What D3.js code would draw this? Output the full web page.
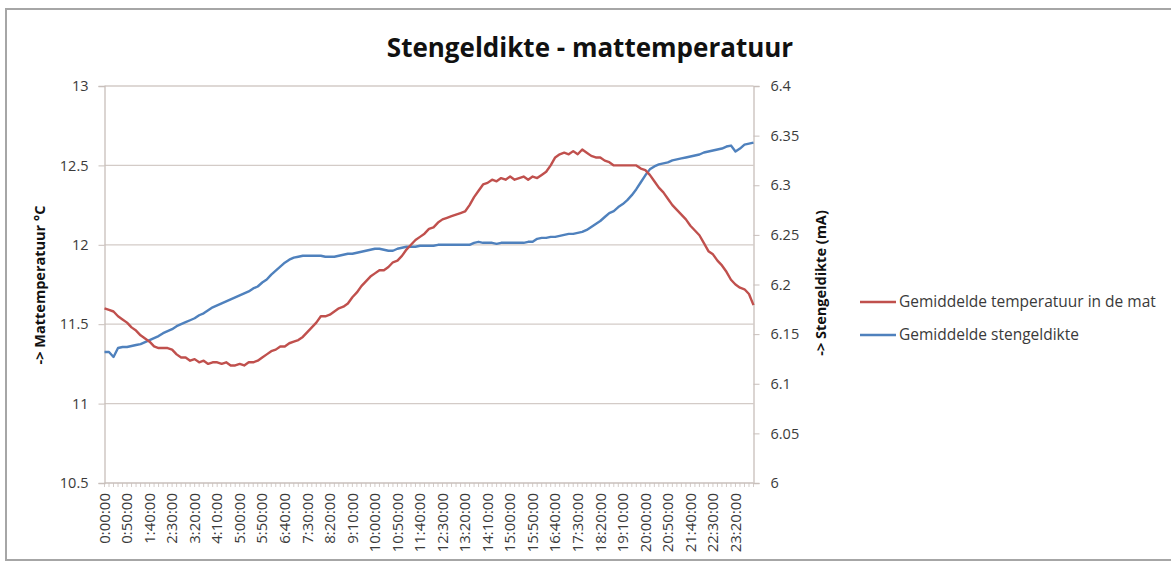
<!DOCTYPE html>
<html>
<head>
<meta charset="utf-8">
<script src="https://cdn.jsdelivr.net/npm/d3@7/dist/d3.min.js"></script>
<style>
  html, body { margin: 0; padding: 0; background: #fff; }
  svg { display: block; font-family: "Open Sans", "DejaVu Sans", sans-serif; }
</style>
</head>
<body>
<svg id="chart" width="1171" height="563"></svg>
<script>
// Gemeten gemiddelden, één waarde per 10 minuten (0:00 t/m 24:00)
const sampleStepMinutes = 10;

const temperatuur = [
  11.60, 11.59, 11.58, 11.55, 11.53, 11.51, 11.48, 11.46, 11.43, 11.41,
  11.39, 11.36, 11.35, 11.35, 11.35, 11.34, 11.31, 11.29, 11.29, 11.27,
  11.28, 11.26, 11.27, 11.25, 11.26, 11.26, 11.25, 11.26, 11.24, 11.24,
  11.25, 11.24, 11.26, 11.26, 11.27, 11.29, 11.31, 11.33, 11.34, 11.36,
  11.36, 11.38, 11.39, 11.40, 11.42, 11.45, 11.48, 11.51, 11.55, 11.55,
  11.56, 11.58, 11.60, 11.61, 11.63, 11.67, 11.70, 11.74, 11.77, 11.80,
  11.82, 11.84, 11.84, 11.86, 11.89, 11.90, 11.93, 11.97, 12.00, 12.03,
  12.05, 12.07, 12.10, 12.11, 12.14, 12.16, 12.17, 12.18, 12.19, 12.20,
  12.21, 12.25, 12.30, 12.34, 12.38, 12.39, 12.41, 12.40, 12.42, 12.41,
  12.43, 12.41, 12.42, 12.43, 12.41, 12.43, 12.42, 12.44, 12.46, 12.50,
  12.55, 12.57, 12.58, 12.57, 12.59, 12.57, 12.60, 12.58, 12.56, 12.55,
  12.55, 12.53, 12.52, 12.50, 12.50, 12.50, 12.50, 12.50, 12.50, 12.48,
  12.47, 12.44, 12.40, 12.36, 12.33, 12.29, 12.25, 12.22, 12.19, 12.16,
  12.12, 12.09, 12.06, 12.01, 11.96, 11.94, 11.90, 11.87, 11.83, 11.78,
  11.75, 11.73, 11.72, 11.69, 11.62
];

const stengeldikte = [
  6.132, 6.132, 6.127, 6.136, 6.137, 6.137, 6.138, 6.139, 6.140, 6.142,
  6.144, 6.146, 6.148, 6.151, 6.153, 6.155, 6.158, 6.160, 6.162, 6.164,
  6.166, 6.169, 6.171, 6.174, 6.177, 6.179, 6.181, 6.183, 6.185, 6.187,
  6.189, 6.191, 6.193, 6.196, 6.198, 6.202, 6.205, 6.210, 6.214, 6.218,
  6.222, 6.225, 6.227, 6.228, 6.229, 6.229, 6.229, 6.229, 6.229, 6.228,
  6.228, 6.228, 6.229, 6.230, 6.231, 6.231, 6.232, 6.233, 6.234, 6.235,
  6.236, 6.236, 6.235, 6.234, 6.234, 6.236, 6.237, 6.238, 6.238, 6.238,
  6.239, 6.239, 6.239, 6.239, 6.240, 6.240, 6.240, 6.240, 6.240, 6.240,
  6.240, 6.240, 6.242, 6.243, 6.242, 6.242, 6.242, 6.241, 6.242, 6.242,
  6.242, 6.242, 6.242, 6.242, 6.243, 6.243, 6.246, 6.247, 6.247, 6.248,
  6.248, 6.249, 6.250, 6.251, 6.251, 6.252, 6.253, 6.255, 6.258, 6.261,
  6.264, 6.268, 6.272, 6.274, 6.278, 6.281, 6.285, 6.290, 6.296, 6.303,
  6.310, 6.316, 6.319, 6.321, 6.322, 6.323, 6.325, 6.326, 6.327, 6.328,
  6.329, 6.330, 6.331, 6.333, 6.334, 6.335, 6.336, 6.337, 6.339, 6.340,
  6.334, 6.337, 6.341, 6.342, 6.343
];

// Tijdlabels op de x-as (elke 50 minuten)
const tijdLabels = [
  "0:00:00", "0:50:00", "1:40:00", "2:30:00", "3:20:00", "4:10:00", "5:00:00",
  "5:50:00", "6:40:00", "7:30:00", "8:20:00", "9:10:00", "10:00:00", "10:50:00",
  "11:40:00", "12:30:00", "13:20:00", "14:10:00", "15:00:00", "15:50:00",
  "16:40:00", "17:30:00", "18:20:00", "19:10:00", "20:00:00", "20:50:00",
  "21:40:00", "22:30:00", "23:20:00"
];

const tempTicks = [10.5, 11, 11.5, 12, 12.5, 13];
const dikteTicks = [6, 6.05, 6.1, 6.15, 6.2, 6.25, 6.3, 6.35, 6.4];

const seriesNames = ["Gemiddelde temperatuur in de mat", "Gemiddelde stengeldikte"];
const seriesColors = ["#C0504D", "#4F81BD"];

// ---- layout ----
const plot = { left: 104.5, right: 753.5, top: 86, bottom: 483 };
const svg = d3.select("#chart");

// outer frame
svg.append("rect")
  .attr("x", 6).attr("y", 9).attr("width", 1175).attr("height", 551)
  .attr("fill", "#fff").attr("stroke", "#a6a6a6").attr("stroke-width", 2);

const x = d3.scaleLinear().domain([0, 1440]).range([plot.left, plot.right]);
const yT = d3.scaleLinear().domain([10.5, 13]).range([plot.bottom, plot.top]);
const yS = d3.scaleLinear().domain([6, 6.4]).range([plot.bottom, plot.top]);

const gridColor = "#d3cbc7";
const axisColor = "#c8bfbb";
const labelColor = "#3a3a3a";

// horizontal gridlines
svg.append("g")
  .selectAll("line")
  .data(tempTicks.filter(t => t > 10.5))
  .join("line")
  .attr("x1", plot.left).attr("x2", plot.right)
  .attr("y1", d => yT(d)).attr("y2", d => yT(d))
  .attr("stroke", gridColor).attr("stroke-width", 1.3);

// left axis
const leftAxis = svg.append("g")
  .attr("transform", `translate(${plot.left},0)`)
  .call(d3.axisLeft(yT).tickValues(tempTicks).tickFormat(d3.format("")).tickSize(6).tickPadding(10));
leftAxis.select(".domain").attr("stroke", axisColor).attr("stroke-width", 1.3);
leftAxis.selectAll(".tick line").attr("stroke", axisColor);
leftAxis.selectAll(".tick text")
  .attr("font-size", 14.5).attr("fill", labelColor)
  .attr("font-family", "'Open Sans', sans-serif");

// right axis
const rightAxis = svg.append("g")
  .attr("transform", `translate(${plot.right},0)`)
  .call(d3.axisRight(yS).tickValues(dikteTicks).tickFormat(d3.format("")).tickSize(6).tickPadding(11));
rightAxis.select(".domain").attr("stroke", axisColor).attr("stroke-width", 1.3);
rightAxis.selectAll(".tick line").attr("stroke", axisColor);
rightAxis.selectAll(".tick text")
  .attr("font-size", 14.5).attr("fill", labelColor)
  .attr("font-family", "'Open Sans', sans-serif");

// bottom axis: line, minor ticks and rotated time labels
const minorTicks = d3.range(0, 1441, sampleStepMinutes);
const bottom = svg.append("g");
bottom.append("line")
  .attr("x1", plot.left).attr("x2", plot.right)
  .attr("y1", plot.bottom).attr("y2", plot.bottom)
  .attr("stroke", axisColor).attr("stroke-width", 1.3);
bottom.selectAll("line.minor")
  .data(minorTicks)
  .join("line")
  .attr("class", "minor")
  .attr("x1", d => x(d)).attr("x2", d => x(d))
  .attr("y1", plot.bottom).attr("y2", plot.bottom + 4)
  .attr("stroke", axisColor).attr("stroke-width", 0.8);
bottom.selectAll("text")
  .data(tijdLabels)
  .join("text")
  .attr("transform", (d, i) => `translate(${x(i * 50)},${plot.bottom + 10}) rotate(-90)`)
  .attr("text-anchor", "end")
  .attr("dy", "0.35em")
  .attr("font-size", 15)
  .attr("fill", labelColor)
  .text(d => d);

// lines
const tLine = d3.line()
  .x((d, i) => x(i * sampleStepMinutes))
  .y(d => yT(d));
const sLine = d3.line()
  .x((d, i) => x(i * sampleStepMinutes))
  .y(d => yS(d));

svg.append("path")
  .datum(stengeldikte)
  .attr("d", sLine)
  .attr("fill", "none").attr("stroke", seriesColors[1])
  .attr("stroke-width", 2.4).attr("stroke-linejoin", "round");

svg.append("path")
  .datum(temperatuur)
  .attr("d", tLine)
  .attr("fill", "none").attr("stroke", seriesColors[0])
  .attr("stroke-width", 2.4).attr("stroke-linejoin", "round");

// title
svg.append("text")
  .attr("x", 590).attr("y", 57)
  .attr("text-anchor", "middle")
  .attr("font-size", 26).attr("font-weight", "bold")
  .attr("fill", "#111")
  .text("Stengeldikte - mattemperatuur");

// axis titles
svg.append("text")
  .attr("transform", "translate(40,285) rotate(-90)")
  .attr("text-anchor", "middle").attr("dy", "0.35em")
  .attr("font-size", 14.5).attr("font-weight", "bold").attr("fill", "#111")
  .text("-> Mattemperatuur °C");

svg.append("text")
  .attr("transform", "translate(821,283) rotate(-90)")
  .attr("text-anchor", "middle").attr("dy", "0.35em")
  .attr("font-size", 14.5).attr("font-weight", "bold").attr("fill", "#111")
  .text("-> Stengeldikte (mA)");

// legend
const legend = svg.append("g")
  .selectAll("g")
  .data(seriesNames)
  .join("g")
  .attr("transform", (d, i) => `translate(860,${302 + i * 33})`);
legend.append("line")
  .attr("x1", 0).attr("x2", 36)
  .attr("stroke", (d, i) => seriesColors[i]).attr("stroke-width", 2.4);
legend.append("text")
  .attr("x", 39).attr("dy", "0.35em")
  .attr("font-size", 15.5).attr("fill", labelColor)
  .text(d => d);
</script>
</body>
</html>
